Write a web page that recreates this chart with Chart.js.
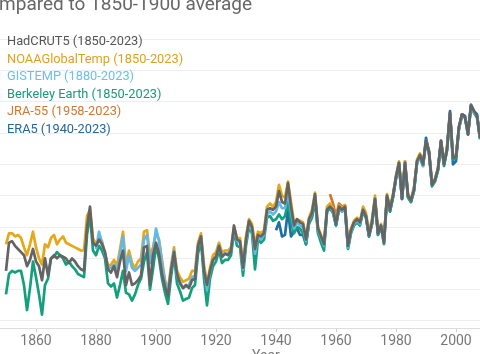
<!DOCTYPE html>
<html>
<head>
<meta charset="utf-8">
<script src="https://cdn.jsdelivr.net/npm/chart.js@4.4.1/dist/chart.umd.min.js"></script>
<style>
  body { margin: 0; background: #fff; }
  #wrap { position: relative; width: 480px; height: 354px; overflow: hidden; background: #fff; font-family: Roboto, "Noto Sans", sans-serif; }
  #chart { position: absolute; left: 0; top: 0; }
  #title { position: absolute; right: 228px; top: -6px; font-size: 19px; line-height: 19px; color: #666; white-space: nowrap; }
  #legend { position: absolute; left: 7px; top: 32px; font-size: 12.8px; line-height: 17.5px; }
  #xtitle { position: absolute; left: 252px; top: 348px; font-size: 14px; line-height: 14px; color: #777; }
</style>
</head>
<body>
<div id="wrap">
  <canvas id="chart" width="480" height="354"></canvas>
  <div id="title">Global surface temperature change compared to 1850-1900 average</div>
  <div id="legend"></div>
  <div id="xtitle">Year</div>
</div>
<script>
// years shown in the crop (1850 - 2008)
const years = []
for (let y = 1850; y <= 2008; y++) years.push(y)

const xTicks = [1860, 1880, 1900, 1920, 1940, 1960, 1980, 2000]
const yTicks = [-0.4, -0.2, 0, 0.2, 0.4, 0.6, 0.8, 1.0, 1.2, 1.4]

// anomalies in °C vs 1850-1900
const hadcrut5 = [
  -0.08, 0.10, 0.11, 0.08, 0.06, 0.04, 0.02, -0.05, -0.01, 0.06,
  -0.02, -0.05, -0.14, 0.00, -0.11, 0.00, 0.02, 0.00, 0.02, 0.01,
  0.00, -0.03, 0.00, -0.02, -0.05, -0.07, -0.08, 0.20, 0.33, 0.10,
  0.08, 0.12, 0.09, 0.04, -0.07, -0.09, -0.05, -0.12, -0.02, 0.05,
  -0.17, -0.09, -0.17, -0.16, -0.14, -0.11, 0.07, 0.08, -0.17, 0.02,
  0.10, 0.03, -0.10, -0.18, -0.24, -0.08, 0.04, -0.10, -0.16, -0.19,
  -0.17, -0.19, -0.14, -0.13, 0.08, 0.14, -0.08, -0.17, -0.08, -0.01,
  0.01, 0.08, 0.01, 0.03, 0.02, 0.05, 0.21, 0.12, 0.11, -0.06,
  0.12, 0.24, 0.20, 0.06, 0.15, 0.14, 0.16, 0.31, 0.32, 0.31,
  0.33, 0.43, 0.36, 0.35, 0.48, 0.33, 0.21, 0.25, 0.23, 0.22,
  0.12, 0.25, 0.29, 0.41, 0.19, 0.14, 0.09, 0.31, 0.33, 0.31,
  0.22, 0.33, 0.31, 0.33, 0.08, 0.18, 0.23, 0.25, 0.23, 0.31,
  0.27, 0.15, 0.23, 0.38, 0.16, 0.21, 0.10, 0.40, 0.31, 0.40,
  0.52, 0.61, 0.38, 0.61, 0.40, 0.37, 0.44, 0.62, 0.66, 0.60,
  0.75, 0.68, 0.47, 0.50, 0.57, 0.75, 0.60, 0.69, 0.93, 0.64,
  0.65, 0.84, 0.92, 0.90, 0.79, 0.98, 0.94, 0.91, 0.77
]
const noaa = [
  0.09, 0.16, 0.16, 0.14, 0.15, 0.13, 0.07, 0.02, 0.09, 0.17,
  0.07, 0.00, -0.04, 0.09, 0.07, 0.13, 0.15, 0.09, 0.12, 0.14,
  0.10, 0.09, 0.08, 0.07, 0.06, 0.05, 0.05, 0.27, 0.31, 0.13,
  0.09, 0.11, 0.11, 0.03, -0.05, -0.04, -0.01, -0.05, 0.06, 0.17,
  -0.05, 0.05, -0.03, -0.06, -0.02, 0.00, 0.17, 0.18, 0.02, 0.07,
  0.16, 0.12, -0.01, -0.14, -0.20, -0.05, 0.07, -0.08, -0.12, -0.15,
  -0.14, -0.13, -0.08, -0.08, 0.10, 0.16, -0.04, -0.16, -0.06, 0.02,
  0.04, 0.10, 0.04, 0.05, 0.05, 0.07, 0.20, 0.13, 0.13, -0.04,
  0.14, 0.25, 0.22, 0.09, 0.17, 0.16, 0.18, 0.33, 0.35, 0.33,
  0.36, 0.47, 0.40, 0.39, 0.49, 0.36, 0.23, 0.25, 0.24, 0.23,
  0.13, 0.26, 0.31, 0.42, 0.20, 0.15, 0.10, 0.33, 0.35, 0.32,
  0.24, 0.34, 0.32, 0.34, 0.10, 0.19, 0.24, 0.26, 0.24, 0.33,
  0.29, 0.17, 0.25, 0.40, 0.18, 0.22, 0.12, 0.41, 0.33, 0.41,
  0.53, 0.62, 0.40, 0.62, 0.41, 0.38, 0.45, 0.63, 0.67, 0.60,
  0.75, 0.69, 0.49, 0.51, 0.58, 0.74, 0.61, 0.71, 0.92, 0.65,
  0.66, 0.84, 0.91, 0.90, 0.80, 0.96, 0.93, 0.90, 0.78
]
// GISTEMP starts in 1880
const gistemp = [
  null, null, null, null, null, null, null, null, null, null,
  null, null, null, null, null, null, null, null, null, null,
  null, null, null, null, null, null, null, null, null, null,
  0.06, 0.17, 0.10, 0.03, -0.06, -0.06, -0.04, -0.09, 0.03, 0.14,
  -0.08, 0.02, -0.06, -0.08, -0.06, -0.04, 0.12, 0.15, -0.03, 0.05,
  0.19, 0.11, -0.03, -0.15, -0.22, -0.07, 0.05, -0.11, -0.15, -0.19,
  -0.18, -0.17, -0.12, -0.11, 0.08, 0.14, -0.07, -0.20, -0.09, -0.01,
  0.01, 0.08, 0.01, 0.03, 0.03, 0.05, 0.19, 0.11, 0.10, -0.07,
  0.11, 0.22, 0.18, 0.03, 0.14, 0.12, 0.15, 0.28, 0.30, 0.28,
  0.30, 0.36, 0.32, 0.32, 0.42, 0.30, 0.19, 0.23, 0.21, 0.20,
  0.11, 0.24, 0.29, 0.40, 0.18, 0.13, 0.08, 0.31, 0.33, 0.30,
  0.22, 0.32, 0.30, 0.32, 0.07, 0.17, 0.22, 0.24, 0.22, 0.31,
  0.27, 0.15, 0.23, 0.38, 0.16, 0.21, 0.10, 0.39, 0.31, 0.40,
  0.52, 0.61, 0.38, 0.61, 0.40, 0.37, 0.44, 0.61, 0.65, 0.59,
  0.75, 0.68, 0.47, 0.50, 0.57, 0.74, 0.60, 0.69, 0.92, 0.64,
  0.65, 0.83, 0.91, 0.90, 0.79, 0.97, 0.93, 0.91, 0.77
]
const berkeley = [
  -0.23, -0.10, -0.08, -0.09, -0.08, -0.08, -0.17, -0.33, -0.19, -0.02,
  -0.12, -0.23, -0.36, -0.17, -0.13, 0.00, 0.01, 0.04, 0.02, 0.00,
  -0.04, -0.02, -0.05, -0.07, -0.10, -0.11, -0.12, 0.15, 0.28, 0.05,
  0.02, 0.08, 0.05, 0.00, -0.16, -0.18, -0.16, -0.25, -0.17, -0.08,
  -0.22, -0.23, -0.27, -0.23, -0.17, -0.13, -0.02, 0.04, -0.20, -0.07,
  0.08, 0.00, -0.13, -0.22, -0.29, -0.12, 0.02, -0.16, -0.21, -0.27,
  -0.26, -0.25, -0.19, -0.17, 0.03, 0.11, -0.13, -0.30, -0.13, -0.05,
  -0.02, 0.05, -0.03, -0.01, -0.01, 0.02, 0.17, 0.08, 0.07, -0.11,
  0.08, 0.20, 0.16, -0.07, 0.12, 0.10, 0.12, 0.26, 0.27, 0.24,
  0.25, 0.28, 0.25, 0.27, 0.36, 0.23, 0.16, 0.20, 0.19, 0.16,
  0.09, 0.22, 0.26, 0.37, 0.16, 0.10, 0.05, 0.30, 0.32, 0.29,
  0.21, 0.31, 0.30, 0.31, 0.06, 0.16, 0.21, 0.23, 0.21, 0.30,
  0.26, 0.14, 0.22, 0.37, 0.15, 0.20, 0.09, 0.39, 0.30, 0.39,
  0.51, 0.60, 0.38, 0.60, 0.39, 0.36, 0.43, 0.61, 0.65, 0.59,
  0.74, 0.67, 0.46, 0.49, 0.56, 0.74, 0.59, 0.69, 0.92, 0.63,
  0.64, 0.83, 0.91, 0.90, 0.79, 0.97, 0.93, 0.90, 0.76
]
// JRA-55 starts in 1958
const jra55 = [
  null, null, null, null, null, null, null, null, null, null,
  null, null, null, null, null, null, null, null, null, null,
  null, null, null, null, null, null, null, null, null, null,
  null, null, null, null, null, null, null, null, null, null,
  null, null, null, null, null, null, null, null, null, null,
  null, null, null, null, null, null, null, null, null, null,
  null, null, null, null, null, null, null, null, null, null,
  null, null, null, null, null, null, null, null, null, null,
  null, null, null, null, null, null, null, null, null, null,
  null, null, null, null, null, null, null, null, null, null,
  null, null, null, null, null, null, null, null, 0.41, 0.35,
  0.27, 0.35, 0.33, 0.34, 0.09, 0.18, 0.23, 0.25, 0.23, 0.31,
  0.27, 0.15, 0.24, 0.38, 0.16, 0.21, 0.13, 0.40, 0.31, 0.40,
  0.52, 0.61, 0.39, 0.62, 0.40, 0.37, 0.45, 0.62, 0.66, 0.60,
  0.75, 0.68, 0.47, 0.50, 0.57, 0.75, 0.61, 0.70, 0.92, 0.64,
  0.65, 0.84, 0.92, 0.90, 0.80, 0.97, 0.94, 0.91, 0.77
]
// ERA5 starts in 1940
const era5 = [
  null, null, null, null, null, null, null, null, null, null,
  null, null, null, null, null, null, null, null, null, null,
  null, null, null, null, null, null, null, null, null, null,
  null, null, null, null, null, null, null, null, null, null,
  null, null, null, null, null, null, null, null, null, null,
  null, null, null, null, null, null, null, null, null, null,
  null, null, null, null, null, null, null, null, null, null,
  null, null, null, null, null, null, null, null, null, null,
  null, null, null, null, null, null, null, null, null, null,
  0.18, 0.23, 0.14, 0.15, 0.31, 0.14, 0.17, 0.19, 0.15, 0.15,
  0.09, 0.23, 0.27, 0.39, 0.17, 0.12, 0.08, 0.30, 0.32, 0.30,
  0.21, 0.32, 0.30, 0.32, 0.07, 0.17, 0.22, 0.24, 0.22, 0.30,
  0.26, 0.14, 0.22, 0.37, 0.15, 0.20, 0.12, 0.39, 0.30, 0.39,
  0.51, 0.60, 0.38, 0.60, 0.39, 0.36, 0.43, 0.61, 0.65, 0.59,
  0.77, 0.68, 0.47, 0.50, 0.57, 0.75, 0.60, 0.70, 0.94, 0.60,
  0.62, 0.84, 0.92, 0.91, 0.80, 0.98, 0.94, 0.92, 0.77
]

const seriesNames = ['HadCRUT5 (1850-2023)', 'NOAAGlobalTemp (1850-2023)', 'GISTEMP (1880-2023)',
  'Berkeley Earth (1850-2023)', 'JRA-55 (1958-2023)', 'ERA5 (1940-2023)']
const seriesValues = [hadcrut5, noaa, gistemp, berkeley, jra55, era5]
const lineColors = ['#646464', '#e6a718', '#63b9e6', '#14a07c', '#d8742a', '#1f6ea6']
const textColors = ['#555555', '#e0a21c', '#6cc0ea', '#1a9a78', '#d5782e', '#24679a']
// gray on top, Berkeley at the bottom
const drawOrder = [0, 4, 1, 2, 5, 3]

// legend as plain text lines
const legendEl = document.getElementById('legend')
seriesNames.forEach(function(name, i) {
    const row = document.createElement('div')
    row.textContent = name
    row.style.color = textColors[i]
    legendEl.appendChild(row)
})

const datasets = seriesNames.map(function(name, i) {
    return {
        label: name,
        data: years.map((yr, k) => ({ x: yr, y: seriesValues[i][k] })),
        borderColor: lineColors[i],
        borderWidth: 2.7,
        pointRadius: 0,
        tension: 0,
        borderJoinStyle: 'round',
        spanGaps: false,
        order: drawOrder[i]
    }
})

const ctx = document.getElementById('chart').getContext('2d')
new Chart(ctx, {
    type: 'line',
    data: { datasets: datasets },
    options: {
        responsive: false,
        animation: false,
        devicePixelRatio: 1,
        layout: { padding: { top: 20, bottom: 3, left: 0, right: 0 } },
        plugins: { legend: { display: false }, tooltip: { enabled: false } },
        scales: {
            x: {
                type: 'linear',
                min: 1848,
                max: 2008,
                afterBuildTicks: axis => { axis.ticks = xTicks.map(v => ({ value: v })) },
                ticks: {
                    callback: v => String(v),
                    color: '#777',
                    font: { family: 'Roboto', size: 14 },
                    padding: 1,
                    maxRotation: 0
                },
                grid: { drawOnChartArea: false, drawTicks: true, tickLength: 4, color: '#cfcfcf' },
                border: { display: true, color: '#dddddd' }
            },
            y: {
                min: -0.446,
                max: 1.522,
                afterBuildTicks: axis => { axis.ticks = yTicks.map(v => ({ value: v })) },
                afterFit: axis => { axis.width = 0 },
                ticks: { display: false },
                grid: { color: '#eeeeee', drawTicks: false },
                border: { display: false }
            }
        }
    }
})
</script>
</body>
</html>
